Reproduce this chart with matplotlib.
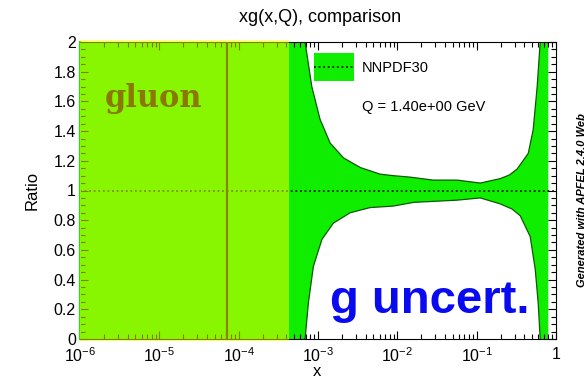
import matplotlib
matplotlib.use("Agg")
import matplotlib.pyplot as plt
import matplotlib.patches as patches
from matplotlib.lines import Line2D
from matplotlib.ticker import FixedLocator, FixedFormatter, MultipleLocator, LogLocator, NullFormatter

plt.rcParams['font.family'] = ['Liberation Sans', 'DejaVu Sans']
plt.rcParams['mathtext.fontset'] = 'custom'
plt.rcParams['mathtext.rm'] = 'Liberation Sans'
plt.rcParams['mathtext.it'] = 'Liberation Sans:italic'
plt.rcParams['mathtext.bf'] = 'Liberation Sans:bold'

# NNPDF30 gluon ratio band, upper and lower edges
upper_x = [1e-6, 6.87e-4, 8.35e-4, 1.06e-3, 1.42e-3, 2.09e-3, 3.40e-3, 6.07e-3, 8.85e-3,
           1.45e-2, 2.83e-2, 5.68e-2, 0.111, 0.198, 0.26, 0.324, 0.447, 0.516, 0.579, 0.632, 0.8]
upper_y = [2.5, 2.0, 1.70, 1.48, 1.32, 1.22, 1.155, 1.11, 1.10,
           1.09, 1.07, 1.07, 1.05, 1.08, 1.105, 1.145, 1.25, 1.41, 1.70, 2.0, 2.5]
lower_x = [1e-6, 6.87e-4, 7.57e-4, 8.75e-4, 1.12e-3, 1.56e-3, 2.54e-3, 4.54e-3, 8.85e-3,
           1.6e-2, 5.68e-2, 0.111, 0.198, 0.28, 0.354, 0.473, 0.547, 0.597, 0.632, 0.8]
lower_y = [-0.5, 0.0, 0.245, 0.49, 0.67, 0.78, 0.85, 0.885, 0.895,
           0.92, 0.935, 0.95, 0.91, 0.875, 0.83, 0.69, 0.47, 0.24, 0.0, -0.5]
central = 1.0

x_ticks = [1e-6, 1e-5, 1e-4, 1e-3, 1e-2, 1e-1, 1]
x_tick_labels = ['$10^{-6}$', '$10^{-5}$', '$10^{-4}$', '$10^{-3}$', '$10^{-2}$', '$10^{-1}$', '1']
y_ticks = [0, 0.2, 0.4, 0.6, 0.8, 1.0, 1.2, 1.4, 1.6, 1.8, 2.0]
y_tick_labels = ['0', '0.2', '0.4', '0.6', '0.8', '1', '1.2', '1.4', '1.6', '1.8', '2']

# shaded region and marker line
shade_x = (1e-6, 4.33e-4)
marker_x = 7.14e-5

BAND = '#10ee00'
EDGE = '#0a5a00'
DOTS = (0, (1.2, 1.8))


class BandHandler:
    # green box with the dotted central line through its middle
    def legend_artist(self, legend, orig_handle, fontsize, handlebox):
        x0, y0 = handlebox.xdescent, handlebox.ydescent
        w, h = handlebox.width, handlebox.height
        tr = handlebox.get_transform()
        rect = patches.Rectangle((-x0, -y0), w, h, facecolor=BAND, lw=0, transform=tr)
        line = Line2D([-x0, -x0 + w], [-y0 + h / 2] * 2, color='black', ls=DOTS, lw=1.1,
                      transform=tr)
        handlebox.add_artist(rect)
        handlebox.add_artist(line)
        return rect


fig = plt.figure(figsize=(5.87, 3.78), dpi=100)
ax = fig.add_axes([80 / 587, 39 / 378, 476 / 587, 297 / 378])
ax.set_xscale('log')
ax.set_xlim(1e-6, 1)
ax.set_ylim(0, 2)

band = ax.fill(upper_x + lower_x[::-1], upper_y + lower_y[::-1], color=BAND, lw=0, zorder=1)[0]
ax.plot(upper_x, upper_y, color=EDGE, lw=0.9, zorder=1.5)
ax.plot(lower_x, lower_y, color=EDGE, lw=0.9, zorder=1.5)
ax.axhline(central, color='black', ls=DOTS, lw=1.1, zorder=2)

ax.axvline(marker_x, color='#1a0800', lw=1.6, zorder=2.6)
shade = patches.Rectangle((shade_x[0], -0.012), shade_x[1] - shade_x[0], 2.024,
                          facecolor='yellow', alpha=0.5, lw=0, clip_on=False, zorder=3)
ax.add_patch(shade)

# ticks, ROOT style
ax.xaxis.set_major_locator(FixedLocator(x_ticks))
ax.xaxis.set_major_formatter(FixedFormatter(x_tick_labels))
ax.xaxis.set_minor_locator(LogLocator(base=10, subs=range(2, 10)))
ax.xaxis.set_minor_formatter(NullFormatter())
ax.yaxis.set_major_locator(FixedLocator(y_ticks))
ax.yaxis.set_major_formatter(FixedFormatter(y_tick_labels))
ax.yaxis.set_minor_locator(MultipleLocator(0.05))
ax.tick_params(which='both', direction='in', top=True, right=True, width=0.8)
ax.tick_params(which='major', length=5.5, labelsize=11.5)
ax.tick_params(which='minor', length=3.5)
ax.tick_params(axis='x', pad=5.5)
ax.tick_params(axis='y', pad=3)
ax.spines['left'].set_color(BAND)
ax.spines['left'].set_linewidth(1.5)

# legend
ax.legend([band], ['NNPDF30'], handler_map={band: BandHandler()},
          loc='upper left', bbox_to_anchor=(0.4916, 0.963),
          frameon=False, fontsize=10.5, borderpad=0, borderaxespad=0,
          handlelength=2.75, handleheight=2.6, handletextpad=0.55)
ax.text(0.5924, 0.781, 'Q = 1.40e+00 GeV', transform=ax.transAxes,
        fontsize=10.5, va='center', ha='left', zorder=5)

ax.text(0.0525, 0.781, 'gluon', transform=ax.transAxes, family='DejaVu Serif',
        weight='bold', fontsize=22, color='#8a7800', va='baseline', zorder=5)
ax.text(0.525, 0.0875, 'g uncert.', transform=ax.transAxes, weight='bold',
        fontsize=34, color='#0a0af0', va='baseline', zorder=5)

fig.text(320 / 587, 1 - 18 / 378, 'xg(x,Q), comparison', ha='center', va='center', fontsize=13)
fig.text(32 / 587, 1 - 190 / 378, 'Ratio', rotation=90, ha='center', va='center', fontsize=12)
fig.text(317 / 587, 1 - 372 / 378, 'x', ha='center', va='center', fontsize=12)
fig.text(582 / 587, 1 - 200 / 378, 'Generated with APFEL 2.4.0 Web', rotation=90,
         ha='center', va='center', fontsize=8, weight='bold', style='italic')

fig.savefig('out.png', dpi=100)
